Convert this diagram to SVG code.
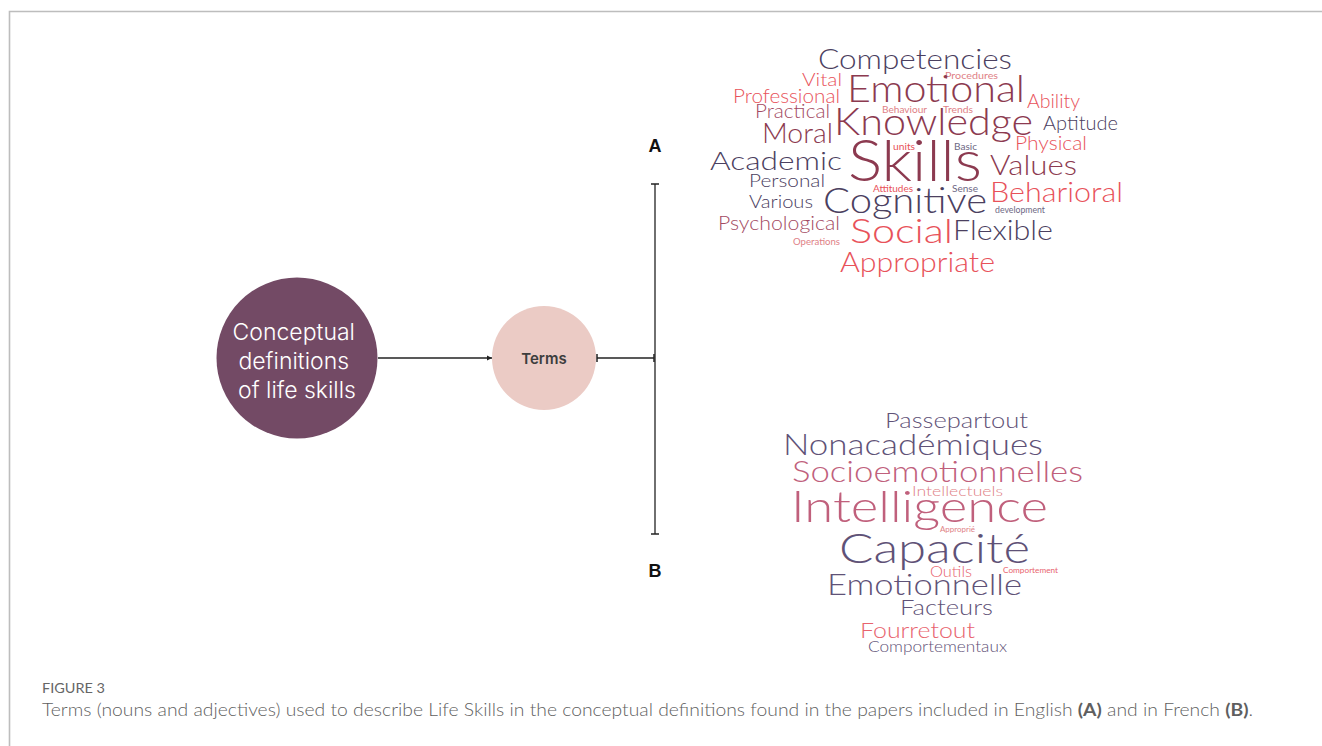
<svg xmlns="http://www.w3.org/2000/svg" width="1322" height="746" viewBox="0 0 1322 746">
<style>
.w{font-family:Lato,"Noto Sans","Liberation Sans",sans-serif;font-weight:300;}
.s{font-weight:400;}
.dk{fill:#4b4060;}
.mr{fill:#8c3a50;}
.rd{fill:#e8525a;}
.pk{fill:#e07f86;}
.gy{fill:#6e6884;}
.ps{fill:#a34a62;}
.fp{fill:#5f5277;}
.fr{fill:#c0607c;}
.fo{fill:#e8646e;}
.lbl{font-family:"Liberation Sans",Arial,sans-serif;font-weight:bold;font-size:18px;fill:#111;text-anchor:middle;}
.cap{font-family:Lato,"Open Sans","Liberation Sans",sans-serif;fill:#5f5f5f;font-weight:300;}
.fig{font-family:Lato,"Open Sans","Liberation Sans",sans-serif;fill:#666;font-weight:400;}
.ln{stroke:#222;stroke-width:1.3;fill:none;}
</style>
<defs>
<marker id="arr" markerWidth="6" markerHeight="6" refX="5" refY="3" orient="auto" markerUnits="userSpaceOnUse">
<path d="M0,0.5 L5,3 L0,5.5 z" fill="#222"/>
</marker>
<marker id="tick" markerWidth="2" markerHeight="8" refX="1" refY="4" orient="auto" markerUnits="userSpaceOnUse">
<path d="M1,0 L1,8" stroke="#222" stroke-width="1.5"/>
</marker>
</defs>
<rect width="1322" height="746" fill="#fff"/>
<path d="M9.5,746 L9.5,11.5 L1322,11.5" stroke="#bdbdbd" stroke-width="1.6" fill="none"/>

<g id="connectors">
<line class="ln" x1="378" y1="358" x2="492" y2="358" marker-end="url(#arr)"/>
<line class="ln" x1="597" y1="358" x2="654" y2="358" marker-start="url(#tick)" marker-end="url(#tick)"/>
<line class="ln" x1="655" y1="184" x2="655" y2="534" marker-start="url(#tick)" marker-end="url(#tick)"/>
</g>

<g id="node-conceptual">
<circle cx="297" cy="358" r="80.5" fill="#734a65"/>
<text font-family="Inter,'Noto Sans','Liberation Sans',sans-serif" font-size="23" font-weight="300" fill="#fff" text-anchor="middle">
<tspan x="297" y="340">Conceptual</tspan>
<tspan x="297" y="369">definitions</tspan>
<tspan x="297" y="398">of life skills</tspan>
</text>
</g>

<g id="node-terms">
<circle cx="544" cy="358" r="52" fill="#ebcbc5"/>
<text x="544" y="364" font-family="Inter,'Noto Sans','Liberation Sans',sans-serif" font-size="15" font-weight="600" fill="#3d3d3d" text-anchor="middle">Terms</text>
</g>

<g id="label-A"><text class="lbl" x="655" y="152">A</text></g>
<g id="label-B"><text class="lbl" x="655" y="577">B</text></g>

<g id="wordcloud-A" class="w">
<text class="dk" x="818" y="69" font-size="28" textLength="194" lengthAdjust="spacingAndGlyphs">Competencies</text>
<text class="rd" x="802" y="86" font-size="18" textLength="40" lengthAdjust="spacingAndGlyphs">Vital</text>
<text class="pk s" x="945" y="79" font-size="9" textLength="53" lengthAdjust="spacingAndGlyphs">Procedures</text>
<text class="mr" x="847" y="102" font-size="38" textLength="178" lengthAdjust="spacingAndGlyphs">Emotional</text>
<text class="rd" x="733" y="103" font-size="19" textLength="107" lengthAdjust="spacingAndGlyphs">Professional</text>
<text class="rd" x="1027" y="108" font-size="19" textLength="53" lengthAdjust="spacingAndGlyphs">Ability</text>
<text class="pk s" x="882" y="113" font-size="9" textLength="45" lengthAdjust="spacingAndGlyphs">Behaviour</text>
<text class="pk s" x="943" y="113" font-size="9" textLength="30" lengthAdjust="spacingAndGlyphs">Trends</text>
<text class="ps" x="755" y="118" font-size="19" textLength="75" lengthAdjust="spacingAndGlyphs">Practical</text>
<text class="mr" x="834" y="135" font-size="37" textLength="199" lengthAdjust="spacingAndGlyphs">Knowledge</text>
<text class="dk" x="1043" y="130" font-size="20" textLength="75" lengthAdjust="spacingAndGlyphs">Aptitude</text>
<text class="mr" x="762" y="143" font-size="28" textLength="71" lengthAdjust="spacingAndGlyphs">Moral</text>
<text class="rd" x="1015" y="150" font-size="19" textLength="72" lengthAdjust="spacingAndGlyphs">Physical</text>
<text class="rd s" x="893" y="150" font-size="9" textLength="22" lengthAdjust="spacingAndGlyphs">units</text>
<text class="gy s" x="954" y="150" font-size="9" textLength="23" lengthAdjust="spacingAndGlyphs">Basic</text>
<text class="dk" x="710" y="170" font-size="26" textLength="132" lengthAdjust="spacingAndGlyphs">Academic</text>
<text class="mr" x="848" y="181" font-size="58" textLength="134" lengthAdjust="spacingAndGlyphs">Skills</text>
<text class="mr" x="990" y="175" font-size="28" textLength="87" lengthAdjust="spacingAndGlyphs">Values</text>
<text class="dk" x="749" y="187" font-size="18" textLength="76" lengthAdjust="spacingAndGlyphs">Personal</text>
<text class="rd s" x="873" y="192" font-size="9" textLength="40" lengthAdjust="spacingAndGlyphs">Attitudes</text>
<text class="gy s" x="952" y="192" font-size="9" textLength="26" lengthAdjust="spacingAndGlyphs">Sense</text>
<text class="rd" x="990" y="202" font-size="27" textLength="133" lengthAdjust="spacingAndGlyphs">Beharioral</text>
<text class="dk" x="823" y="213" font-size="36" textLength="164" lengthAdjust="spacingAndGlyphs">Cognitive</text>
<text class="dk" x="749" y="208" font-size="18" textLength="64" lengthAdjust="spacingAndGlyphs">Various</text>
<text class="gy s" x="995" y="213" font-size="9" textLength="50" lengthAdjust="spacingAndGlyphs">development</text>
<text class="ps" x="718" y="230" font-size="19" textLength="122" lengthAdjust="spacingAndGlyphs">Psychological</text>
<text class="rd" x="850" y="243" font-size="33" textLength="103" lengthAdjust="spacingAndGlyphs">Social</text>
<text class="dk" x="953" y="240" font-size="28" textLength="100" lengthAdjust="spacingAndGlyphs">Flexible</text>
<text class="pk s" x="793" y="245" font-size="9" textLength="47" lengthAdjust="spacingAndGlyphs">Operations</text>
<text class="rd" x="840" y="272" font-size="27" textLength="155" lengthAdjust="spacingAndGlyphs">Appropriate</text>
</g>

<g id="wordcloud-B" class="w">
<text class="fp" x="885" y="428" font-size="22" textLength="143" lengthAdjust="spacingAndGlyphs">Passepartout</text>
<text class="fp" x="783" y="455" font-size="30" textLength="260" lengthAdjust="spacingAndGlyphs">Nonacadémiques</text>
<text class="fr" x="792" y="482" font-size="29" textLength="291" lengthAdjust="spacingAndGlyphs">Socioemotionnelles</text>
<text class="pk" x="912" y="496" font-size="14" textLength="91" lengthAdjust="spacingAndGlyphs">Intellectuels</text>
<text class="fr" x="791" y="522" font-size="44" textLength="257" lengthAdjust="spacingAndGlyphs">Intelligence</text>
<text class="pk s" x="940" y="532" font-size="8" textLength="35" lengthAdjust="spacingAndGlyphs">Approprié</text>
<text class="fp" x="839" y="563" font-size="42" textLength="191" lengthAdjust="spacingAndGlyphs">Capacité</text>
<text class="fo" x="930" y="577" font-size="15" textLength="42" lengthAdjust="spacingAndGlyphs">Outils</text>
<text class="fo s" x="1003" y="573" font-size="8" textLength="55" lengthAdjust="spacingAndGlyphs">Comportement</text>
<text class="fp" x="827" y="595" font-size="30" textLength="195" lengthAdjust="spacingAndGlyphs">Emotionnelle</text>
<text class="fp" x="900" y="615" font-size="21" textLength="93" lengthAdjust="spacingAndGlyphs">Facteurs</text>
<text class="fo" x="860" y="638" font-size="22" textLength="115" lengthAdjust="spacingAndGlyphs">Fourretout</text>
<text class="fp" x="868" y="652" font-size="15" textLength="139" lengthAdjust="spacingAndGlyphs">Comportementaux</text>
</g>

<g id="caption">
<text class="fig" x="42" y="693" font-size="12.5" textLength="63" lengthAdjust="spacingAndGlyphs">FIGURE 3</text>
<text class="cap" x="42" y="716" font-size="16.6" textLength="1211" lengthAdjust="spacingAndGlyphs">Terms (nouns and adjectives) used to describe Life Skills in the conceptual definitions found in the papers included in English <tspan font-weight="bold">(A)</tspan> and in French <tspan font-weight="bold">(B)</tspan>.</text>
</g>
</svg>
